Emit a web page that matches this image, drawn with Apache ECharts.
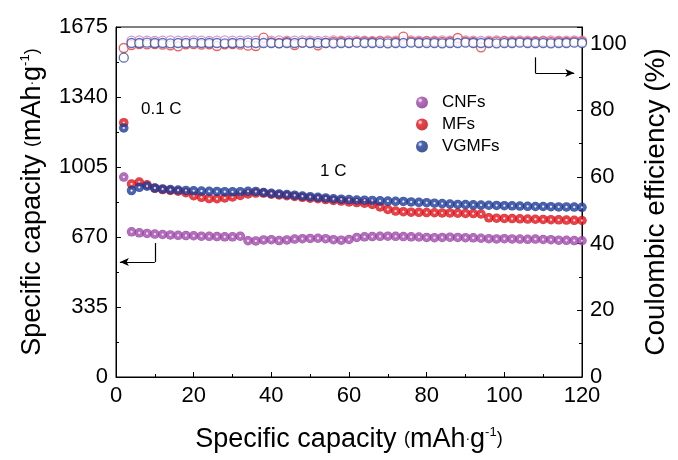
<!DOCTYPE html>
<html>
<head>
<meta charset="utf-8">
<script src="https://cdn.jsdelivr.net/npm/echarts@6/dist/echarts.min.js"></script>
<style>
  html, body { margin: 0; padding: 0; background: #fff; }
  #chart { width: 678px; height: 460px; }
</style>
</head>
<body>
<div id="chart"></div>
<script>
// Cycles measured at 1 C (every second cycle) and the 0.1 C activation cycle
const cycles1C = [4,6,8,10,12,14,16,18,20,22,24,26,28,30,32,34,36,38,40,42,44,46,48,50,52,54,56,58,60,62,64,66,68,70,72,74,76,78,80,82,84,86,88,90,92,94,96,98,100,102,104,106,108,110,112,114,116,118,120];
const cycle01C = 2;

// Specific capacity (mAh/g) at 0.1 C
const capCNF01 = 957;
const capMF01 = 1217;
const capVGMF01 = 1192;

// Specific capacity (mAh/g) at 1 C
const capCNF = [695,690,687,684,682,680,678,677,676,674,673,672,671,671,674,652,651,656,657,653,656,660,662,663,664,662,657,655,658,668,671,672,673,674,673,672,671,670,668,667,668,669,668,667,666,664,662,661,662,661,660,659,660,658,657,655,654,653,652];
const capMF = [924,933,920,903,897,893,889,882,868,860,854,853,857,862,869,876,880,880,875,871,868,864,860,856,853,849,845,842,838,835,832,826,814,802,794,791,789,788,787,786,785,785,784,783,782,780,762,760,759,758,757,756,755,754,753,752,751,750,749];
const capVGMF = [892,908,913,905,900,897,895,893,891,890,889,888,887,886,887,889,888,883,879,876,873,870,866,863,860,857,853,851,849,847,846,845,843,842,841,840,838,836,834,832,830,828,826,825,824,823,822,821,820,819,818,817,816,816,815,814,814,813,812];

// Coulombic efficiency (%)
const ceMF01 = 98.7;
const ceVGMF01 = 95.8;
const ceCNF = [100.9,101.0,100.9,100.8,100.9,101.0,100.9,100.9,101.0,100.9,100.8,100.9,101.0,100.9,100.9,101.0,100.9,100.8,100.9,101.0,100.9,100.9,101.0,100.9,100.8,100.9,101.0,100.9,100.9,101.0,100.9,100.8,100.9,101.0,100.9,100.9,101.0,100.9,100.8,100.9,101.0,100.9,100.9,101.0,100.9,100.8,100.9,101.0,100.9,100.9,101.0,100.9,100.8,100.9,101.0,100.9,100.9,101.0,100.9];
const ceMF = [99.6,99.9,99.8,99.9,99.7,99.5,99.2,99.8,99.9,99.7,99.8,99.3,99.8,99.9,99.7,99.4,99.3,101.8,100.4,100.2,100.5,99.6,100.3,100.4,99.5,100.3,100.5,100.6,100.4,100.5,100.6,100.5,100.7,100.6,100.5,102.1,100.6,100.5,100.7,100.6,100.5,100.6,101.7,100.6,100.5,98.9,100.5,100.6,100.7,100.5,100.6,100.5,100.6,100.7,100.5,100.6,100.5,100.6,100.6];
const ceVGMF = [100.2,100.2,100.3,100.2,100.2,100.1,100.2,100.2,100.3,100.2,100.2,100.2,100.1,100.2,100.2,100.3,100.2,100.2,100.2,100.1,100.2,100.2,100.3,100.2,100.2,100.2,100.1,100.2,100.2,100.3,100.2,100.2,100.2,100.1,100.2,100.2,100.3,100.2,100.2,100.2,100.1,100.2,100.2,100.3,100.2,100.2,100.2,100.1,100.2,100.2,100.3,100.2,100.2,100.2,100.1,100.2,100.2,100.3,100.2];

// Axis ticks
const capTicks = [0, 335, 670, 1005, 1340, 1675];
const ceTicks = [0, 20, 40, 60, 80, 100];
const xTicks = [0, 20, 40, 60, 80, 100, 120];

// Arrow guides: [x, capacity] path to the left axis, [x, CE] path to the right axis
const arrowLeft = [[10, 641], [10, 550], [1, 550]];
const arrowRight = [[108, 95.9], [108, 91.2], [118, 91.2]];

const names = ['CNFs', 'MFs', 'VGMFs'];
const baseColors = ['#a04aab', '#e5121a', '#1c3c9a'];
const darkColors = ['#83308e', '#b80a10', '#142c7a'];
const ringColors = ['#c47ccb', '#e0383c', '#2f4ea6'];

const FONT = '"Liberation Sans", Arial, Helvetica, sans-serif';

function sphere(i) {
  return {
    type: 'radial', x: 0.5, y: 0.5, r: 0.5,
    colorStops: [
      { offset: 0, color: '#ffffff' },
      { offset: 0.12, color: '#f3e4f2' },
      { offset: 0.32, color: baseColors[i] },
      { offset: 0.8, color: baseColors[i] },
      { offset: 1, color: darkColors[i] }
    ]
  };
}
function legendSphere(i) {
  return {
    type: 'radial', x: 0.35, y: 0.32, r: 0.7,
    colorStops: [
      { offset: 0, color: '#ffffff' },
      { offset: 0.3, color: baseColors[i] },
      { offset: 1, color: darkColors[i] }
    ]
  };
}

function pairs(xs, ys) { return xs.map((x, k) => [x, ys[k]]); }

const capSets = [
  [[cycle01C, capCNF01]].concat(pairs(cycles1C, capCNF)),
  [[cycle01C, capMF01]].concat(pairs(cycles1C, capMF)),
  [[cycle01C, capVGMF01]].concat(pairs(cycles1C, capVGMF))
];
const ceSets = [
  pairs(cycles1C, ceCNF),
  [[cycle01C, ceMF01]].concat(pairs(cycles1C, ceMF)),
  [[cycle01C, ceVGMF01]].concat(pairs(cycles1C, ceVGMF))
];

function arrowLine(path) {
  return [
    [{ coord: path[0], symbol: 'none' }, { coord: path[1], symbol: 'none' }],
    [{ coord: path[1], symbol: 'none' }, { coord: path[2], symbol: 'arrow', symbolSize: [6, 9] }]
  ];
}

const series = [];
// Coulombic efficiency: open circles on the right axis
ceSets.forEach((d, i) => {
  series.push({
    name: names[i] + ' CE',
    type: 'scatter',
    yAxisIndex: 1,
    data: d,
    symbol: 'circle',
    symbolSize: 9,
    z: 2 + i,
    itemStyle: { color: '#ffffff', borderColor: ringColors[i], borderWidth: 1.3 },
    markLine: i === 2 ? {
      silent: true, animation: false,
      lineStyle: { color: '#000', width: 1.2, type: 'solid' },
      label: { show: false },
      symbol: ['none', 'none'],
      data: arrowLine(arrowRight)
    } : undefined
  });
});
// Specific capacity: shaded spheres on the left axis
capSets.forEach((d, i) => {
  series.push({
    name: names[i],
    type: 'scatter',
    yAxisIndex: 0,
    data: d,
    symbol: 'circle',
    symbolSize: 9.5,
    z: 5 + i,
    itemStyle: { color: sphere(i) },
    markLine: i === 0 ? {
      silent: true, animation: false,
      lineStyle: { color: '#000', width: 1.2, type: 'solid' },
      label: { show: false },
      symbol: ['none', 'none'],
      data: arrowLine(arrowLeft)
    } : undefined
  });
});

const axisTitleRich = {
  a: { fontSize: 27, fontFamily: FONT, color: '#000' },
  p: { fontSize: 18, fontFamily: FONT, color: '#000' },
  d: { fontSize: 14, fontFamily: FONT, color: '#000' },
  s: { fontSize: 13, fontFamily: FONT, color: '#000', verticalAlign: 'top', padding: [0, 0, 12, 0] }
};
const capTitle = '{a|Specific capacity }{p|(}{a|mAh}{d|·}{a|g}{s|-1}{p|)}';

const chart = echarts.init(document.getElementById('chart'), null, { renderer: 'canvas' });
chart.setOption({
  animation: false,
  backgroundColor: '#ffffff',
  grid: { left: 116, right: 91, top: 27, bottom: 83, show: true, borderColor: '#000', borderWidth: 1, backgroundColor: 'transparent' },
  legend: {
    orient: 'vertical',
    left: 411, top: 89,
    itemWidth: 12, itemHeight: 12, itemGap: 5,
    icon: 'circle',
    selectedMode: false,
    textStyle: { fontSize: 17, fontFamily: FONT, color: '#000', padding: [0, 0, 0, 9] },
    data: names.map((n, i) => ({ name: n, itemStyle: { color: legendSphere(i) } }))
  },
  xAxis: {
    type: 'value',
    min: xTicks[0], max: xTicks[xTicks.length - 1], interval: xTicks[1] - xTicks[0],
    name: capTitle,
    nameLocation: 'middle', nameGap: 49,
    nameTextStyle: { rich: axisTitleRich },
    axisLine: { lineStyle: { color: '#000', width: 1 } },
    axisTick: { inside: true, length: 5, lineStyle: { color: '#000' } },
    minorTick: { show: true, splitNumber: 2, length: 3, lineStyle: { color: '#000' } },
    splitLine: { show: false },
    axisLabel: { fontSize: 22, fontFamily: FONT, color: '#000', margin: 8, formatter: v => String(v) }
  },
  yAxis: [
    {
      type: 'value',
      min: capTicks[0], max: capTicks[capTicks.length - 1], interval: capTicks[1] - capTicks[0],
      name: capTitle,
      nameLocation: 'middle', nameGap: 70,
      nameTextStyle: { rich: axisTitleRich },
      axisLine: { show: true, lineStyle: { color: '#000', width: 1 } },
      axisTick: { show: true, inside: true, length: 5, lineStyle: { color: '#000' } },
      minorTick: { show: true, splitNumber: 2, length: 3, lineStyle: { color: '#000' } },
      splitLine: { show: false },
      axisLabel: { fontSize: 22, fontFamily: FONT, color: '#000', margin: 8, formatter: v => String(v) }
    },
    {
      type: 'value',
      position: 'right',
      min: ceTicks[0], max: 105, interval: ceTicks[1] - ceTicks[0],
      name: 'Coulombic efficiency (%)',
      nameLocation: 'middle', nameGap: 60,
      nameTextStyle: { fontSize: 28, fontFamily: FONT, color: '#000' },
      axisLine: { show: true, lineStyle: { color: '#000', width: 1 } },
      axisTick: { show: true, inside: true, length: 5, lineStyle: { color: '#000' } },
      minorTick: { show: true, splitNumber: 2, length: 3, lineStyle: { color: '#000' } },
      splitLine: { show: false },
      axisLabel: { fontSize: 22, fontFamily: FONT, color: '#000', margin: 8, showMaxLabel: false,
        formatter: v => (ceTicks.indexOf(v) >= 0 ? String(v) : '') }
    }
  ],
  graphic: [
    { type: 'text', left: 141, top: 101, style: { text: '0.1 C', font: '17px ' + FONT, fill: '#000' } },
    { type: 'text', left: 320, top: 163, style: { text: '1 C', font: '17px ' + FONT, fill: '#000' } }
  ],
  series: series
});
</script>
</body>
</html>
